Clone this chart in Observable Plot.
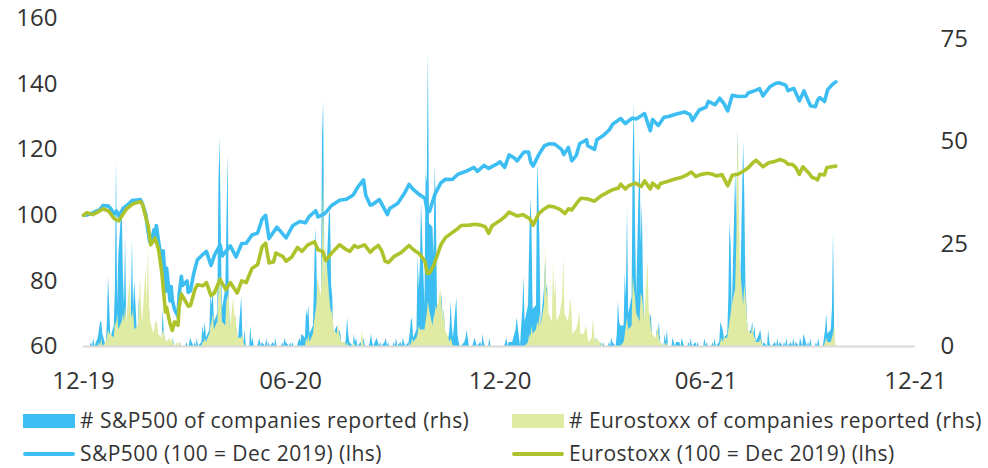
<!DOCTYPE html>
<html>
<head>
<meta charset="utf-8">
<script src="https://cdn.jsdelivr.net/npm/d3@7"></script>
<script src="https://cdn.jsdelivr.net/npm/@observablehq/plot@0.6"></script>
<style>
  html, body { margin: 0; padding: 0; background: #fff; }
  #wrap { position: relative; width: 988px; height: 468px; font-family: "Open Sans", Lato, sans-serif; color: #333; }
  .sw { position: absolute; }
  .lt { position: absolute; font-size: 21px; line-height: 20px; letter-spacing: 0.45px; white-space: nowrap; color: #333; }
</style>
</head>
<body>
<div id="wrap"></div>
<script>
// ---------- data ----------
const xDomain = ["2019-12-31", "2021-12-31"];
const xTicks = ["2019-12-31", "2020-06-30", "2020-12-31", "2021-06-30", "2021-12-31"];
const xTickLabels = ["12-19", "06-20", "12-20", "06-21", "12-21"];
const leftTicks = [60, 80, 100, 120, 140, 160];
const leftDomain = [60, 160];
const rightTicks = [0, 25, 50, 75];
const rightDomain = [0, 80];

const seriesNames = [
  "# S&P500 of companies reported (rhs)",
  "# Eurostoxx of companies reported (rhs)",
  "S&P500 (100 = Dec 2019) (lhs)",
  "Eurostoxx (100 = Dec 2019) (lhs)"
];
const colors = { spxArea: "#3dbef2", esxArea: "#dfeaa3", spxLine: "#3dbef2", esxLine: "#aec22c", base: "#d9d9d9" };

// S&P500 index (100 = Dec 2019)
const spxDates = ["2019-12-31","2020-01-03","2020-01-06","2020-01-08","2020-01-10","2020-01-14","2020-01-17","2020-01-22","2020-01-24","2020-01-27","2020-01-29","2020-01-31",
"2020-02-04","2020-02-07","2020-02-12","2020-02-14","2020-02-19","2020-02-21","2020-02-24","2020-02-25","2020-02-27","2020-02-28",
"2020-03-02","2020-03-03","2020-03-04","2020-03-06","2020-03-09","2020-03-10","2020-03-11","2020-03-12","2020-03-13","2020-03-16","2020-03-17","2020-03-18","2020-03-20","2020-03-23","2020-03-24","2020-03-26","2020-03-27","2020-03-31",
"2020-04-01","2020-04-03","2020-04-06","2020-04-09","2020-04-14","2020-04-17","2020-04-21","2020-04-24","2020-04-29","2020-05-01","2020-05-08","2020-05-13","2020-05-18","2020-05-22","2020-05-27",
"2020-06-01","2020-06-05","2020-06-08","2020-06-11","2020-06-15","2020-06-18","2020-06-26","2020-07-02","2020-07-08","2020-07-13","2020-07-16","2020-07-22","2020-07-24","2020-07-30",
"2020-08-05","2020-08-12","2020-08-18","2020-08-24","2020-08-28","2020-09-02","2020-09-04","2020-09-08","2020-09-10","2020-09-16","2020-09-23","2020-09-25",
"2020-10-02","2020-10-08","2020-10-12","2020-10-16","2020-10-21","2020-10-26","2020-10-28","2020-10-30","2020-11-04","2020-11-09","2020-11-13","2020-11-19","2020-11-24",
"2020-12-01","2020-12-08","2020-12-11","2020-12-17","2020-12-21","2020-12-28","2020-12-31",
"2021-01-04","2021-01-08","2021-01-12","2021-01-15","2021-01-21","2021-01-25","2021-01-27","2021-01-29","2021-02-03","2021-02-08","2021-02-12","2021-02-17","2021-02-23","2021-02-25",
"2021-03-01","2021-03-04","2021-03-08","2021-03-11","2021-03-17","2021-03-18","2021-03-24","2021-03-26","2021-04-01","2021-04-06","2021-04-09","2021-04-16","2021-04-20","2021-04-26","2021-04-30",
"2021-05-07","2021-05-12","2021-05-14","2021-05-19","2021-05-24","2021-05-28","2021-06-04","2021-06-11","2021-06-16","2021-06-18","2021-06-24","2021-06-30",
"2021-07-02","2021-07-08","2021-07-12","2021-07-16","2021-07-19","2021-07-23","2021-07-28","2021-08-04","2021-08-06","2021-08-12","2021-08-16","2021-08-19","2021-08-25","2021-08-30",
"2021-09-02","2021-09-08","2021-09-10","2021-09-15","2021-09-17","2021-09-20","2021-09-24","2021-09-28","2021-09-30","2021-10-04","2021-10-06","2021-10-08","2021-10-12","2021-10-15","2021-10-19","2021-10-22"];
const spxIndex = [100,100.1,100.5,100.7,101.1,101.6,103.0,102.8,102.0,100.4,101.3,99.8,
102.1,103.0,104.6,104.6,104.8,103.3,99.9,96.8,92.2,91.4,
95.6,93.0,96.9,92.0,85.0,89.2,84.1,76.8,83.9,73.9,78.3,74.2,71.3,69.2,75.7,81.4,78.6,80.0,
76.5,77.0,82.5,86.4,88.1,89.0,84.7,87.8,91.0,87.6,90.7,87.3,91.4,91.5,94.0,
94.6,98.9,100.0,92.9,94.9,96.4,93.1,96.9,98.1,97.7,99.5,101.4,99.5,100.5,
103.0,104.6,104.9,106.2,108.6,110.8,106.1,103.1,103.3,104.8,100.2,102.1,
103.6,106.7,109.4,107.8,106.3,105.2,101.2,101.2,106.6,109.9,111.0,110.9,112.5,
113.4,114.6,113.4,115.2,114.3,115.6,116.3,
114.6,118.4,117.6,116.6,119.3,119.3,116.1,115.0,118.5,121.2,121.8,121.7,120.1,118.5,
120.7,116.6,118.3,121.9,123.0,121.2,120.1,123.0,124.4,126.1,127.8,129.5,128.0,129.6,129.4,
131.0,125.8,129.2,127.4,129.9,130.1,130.9,131.5,130.7,128.9,132.1,133.0,
134.7,133.7,135.7,133.9,131.8,136.6,136.2,136.3,137.3,138.0,138.6,136.4,139.2,140.2,
140.4,139.7,138.0,138.7,137.2,134.9,137.9,134.7,133.3,133.1,135.1,135.9,134.7,138.4,139.9,140.7];

// Eurostoxx index (100 = Dec 2019)
const esxDates = ["2019-12-31","2020-01-03","2020-01-08","2020-01-14","2020-01-17","2020-01-22","2020-01-27","2020-01-31",
"2020-02-04","2020-02-07","2020-02-12","2020-02-19","2020-02-21","2020-02-24","2020-02-26","2020-02-28",
"2020-03-03","2020-03-06","2020-03-09","2020-03-12","2020-03-13","2020-03-16","2020-03-18","2020-03-20","2020-03-23","2020-03-24","2020-03-26","2020-03-30",
"2020-04-01","2020-04-03","2020-04-07","2020-04-09","2020-04-14","2020-04-17","2020-04-21","2020-04-24","2020-04-29","2020-05-04","2020-05-08","2020-05-14","2020-05-18","2020-05-22","2020-05-27",
"2020-06-01","2020-06-05","2020-06-08","2020-06-11","2020-06-15","2020-06-17","2020-06-23","2020-06-26","2020-07-01","2020-07-06","2020-07-10","2020-07-15","2020-07-21","2020-07-24","2020-07-28","2020-07-31",
"2020-08-05","2020-08-12","2020-08-18","2020-08-21","2020-08-25","2020-08-28","2020-09-03","2020-09-08","2020-09-11","2020-09-15","2020-09-18","2020-09-21","2020-09-24","2020-09-29",
"2020-10-05","2020-10-12","2020-10-16","2020-10-21","2020-10-26","2020-10-28","2020-10-30","2020-11-03","2020-11-09","2020-11-13","2020-11-18","2020-11-24","2020-11-27",
"2020-12-04","2020-12-09","2020-12-14","2020-12-18","2020-12-21","2020-12-24","2020-12-31",
"2021-01-04","2021-01-08","2021-01-12","2021-01-15","2021-01-20","2021-01-26","2021-01-29","2021-02-03","2021-02-08","2021-02-12","2021-02-17","2021-02-22","2021-02-26",
"2021-03-01","2021-03-04","2021-03-09","2021-03-12","2021-03-18","2021-03-24","2021-03-30","2021-04-06","2021-04-09","2021-04-14","2021-04-16","2021-04-20","2021-04-23","2021-04-29",
"2021-05-04","2021-05-07","2021-05-12","2021-05-14","2021-05-19","2021-05-21","2021-05-27","2021-06-02","2021-06-08","2021-06-14","2021-06-17","2021-06-21","2021-06-25",
"2021-07-01","2021-07-06","2021-07-09","2021-07-14","2021-07-19","2021-07-23","2021-07-28","2021-08-02","2021-08-06","2021-08-11","2021-08-13","2021-08-19","2021-08-24","2021-08-30",
"2021-09-03","2021-09-07","2021-09-10","2021-09-14","2021-09-17","2021-09-20","2021-09-23","2021-09-28","2021-10-01","2021-10-04","2021-10-06","2021-10-08","2021-10-12","2021-10-14","2021-10-18","2021-10-22"];
const esxIndex = [100,100.8,100.2,101.3,102.0,101.3,99.0,98.3,
100.5,102.0,103.4,104.2,103.2,99.0,96.5,91.0,
93.0,89.5,82.0,70.5,72.0,67.0,64.9,67.5,66.5,72.0,76.0,73.5,
72.3,72.5,77.5,78.8,78.5,79.5,75.5,76.3,80.5,77.3,79.5,76.3,80.0,79.5,83.8,
85.0,90.5,91.5,85.5,85.8,88.5,87.5,86.0,87.3,90.2,89.0,91.0,91.9,89.5,89.0,86.2,
88.5,91.0,89.5,89.0,90.8,90.2,91.0,88.7,89.8,90.8,89.2,86.0,85.6,87.5,
88.6,90.8,89.5,88.3,86.0,82.3,82.4,85.0,91.0,93.2,94.5,96.0,96.9,
97.0,97.3,97.0,96.5,94.5,96.8,98.4,
99.5,101.0,100.3,99.8,100.2,99.0,97.0,100.5,102.0,102.8,102.5,101.7,100.5,
102.0,101.6,104.0,105.2,105.0,104.3,106.0,107.3,107.8,108.3,109.5,108.0,109.0,109.8,
108.8,110.5,108.0,109.8,108.4,109.7,110.3,111.0,111.5,112.5,113.2,111.8,112.4,
112.8,112.5,112.0,112.4,109.0,112.2,112.5,113.5,114.5,116.3,116.8,114.8,116.0,116.5,
117.0,116.5,115.6,115.5,114.5,112.5,114.8,113.0,111.6,111.2,110.8,112.5,112.3,114.5,114.8,115.0];

// Companies reported per day (rhs): weekday runs, Monday-Friday, starting on the given Monday
const spxReportedRuns = [
  ["2020-01-06", [0,1,0,2,0, 2,4,6,6,3, 0,6,17,10,2, 5,14,46,10,22, 35,18,10,27,4, 5,8,26,9,16, 0,12,6,8,3, 4,3,6,9,3, 3,2,4,2,1, 1,9,3,2,0, 0,1,0,2,0, 0,0,1,0,0, 0,1,0,0,2]],
  ["2020-04-06", [0,1,0,2,0, 1,5,3,6,2, 4,13,10,14,6, 8,40,51,30,9, 14,30,47,13,4, 4,6,5,4,1, 12,3,1,4,0, 0,5,1,2,0, 0,1,2,0,1, 0,2,0,1,0, 1,0,2,0,0, 0,1,0,2,1, 0,1,0,1,0]],
  ["2020-07-06", [0,1,2,1,3, 2,9,7,10,3, 5,16,29,22,6, 8,51,60,18,12, 32,33,15,12,3, 5,3,4,3,1, 0,2,7,3,1, 0,3,1,2,0, 1,0,2,1,0, 0,1,3,1,0, 2,1,0,1,0, 1,2,0,1,0, 0,1,0,2,0]],
  ["2020-10-05", [1,0,2,1,0, 1,3,6,7,2, 4,22,14,20,35, 10,42,40,72,30, 29,22,44,35,10, 8,13,6,9,3, 2,4,11,5,2, 12,3,1,0,0, 1,2,4,2,0, 0,1,2,1,0, 1,0,3,1,0, 0,2,0,0,0, 0,0,0,0,0]],
  ["2021-01-04", [0,1,2,0,1, 1,2,3,4,7, 0,5,9,17,6, 10,25,36,30,9, 10,45,38,26,5, 14,21,15,13,3, 0,6,9,12,3, 6,9,10,8,2, 4,5,4,3,1, 0,2,1,3,0, 1,0,2,1,0, 0,1,0,2,0, 0,1,0,1,0]],
  ["2021-04-05", [0,1,0,2,1, 0,3,11,6,5, 5,18,12,34,8, 12,48,59,30,12, 48,25,35,15,6, 11,6,8,7,2, 1,4,3,6,1, 0,3,1,4,0, 0,2,1,0,1, 1,0,2,1,0, 0,1,0,2,0, 1,0,1,0,0, 0,2,0,1,0]],
  ["2021-07-05", [0,1,0,2,0, 1,6,5,4,2, 3,12,30,25,8, 43,30,53,28,8, 50,37,15,9,3, 4,6,3,5,1, 3,4,2,0,1, 0,4,1,0,0, 1,0,2,0,1, 0,1,0,2,0, 1,0,2,0,1, 0,2,1,0,3, 0,1,0,2,0]],
  ["2021-10-04", [0,1,0,2,0, 0,2,4,8,3, 4,9,28,3,0]]
];
const esxReportedRuns = [
  ["2020-01-06", [0,0,0,0,0, 0,1,0,2,0, 1,2,4,3,3, 2,6,5,8,4, 6,8,6,10,6, 17,8,7,9,4, 5,8,17,10,6, 19,10,25,10,6, 3,5,6,6,3, 2,4,3,2,1, 2,1,2,1,0, 1,0,1,0,0]],
  ["2020-04-13", [0,1,1,2,1, 3,5,6,8,4, 6,14,17,16,6, 5,11,12,13,4, 12,7,8,4,2, 2,3,1,0,0]],
  ["2020-07-13", [0,2,1,3,1, 3,6,8,10,17, 12,24,42,14,25, 13,10,8,9,4, 3,6,3,2,1, 1,0,1,0,0, 0,1,0,0,0, 0,4,1,0,0]],
  ["2020-10-12", [0,1,0,2,1, 2,3,5,4,4, 4,6,8,11,9, 5,7,8,10,9, 14,10,6,9,4, 2,1,2,1,0]],
  ["2021-01-25", [1,3,2,5,3, 4,6,5,8,5, 10,25,12,15,8, 6,21,12,16,6, 8,10,12,22,8, 6,8,12,9,3, 4,5,6,9,3, 3,4,5,3,1, 2,7,3,1,2, 1,0,1,0,0]],
  ["2021-04-19", [1,3,5,7,4, 5,17,14,12,8, 6,13,12,10,6, 21,9,7,4,3, 2,3,5,2,1, 0,1,0,1,0]],
  ["2021-07-12", [0,1,2,1,2, 2,4,6,8,10, 14,25,53,40,20, 10,15,12,8,4, 3,5,3,2,1, 1,2,1,0,0]],
  ["2021-10-11", [0,0,1,2,1, 1,2,3,5,0]]
];
const countFirstDay = "2019-12-31";
const countLastDay = "2021-10-22";

// ---------- build tables ----------
const parse = s => new Date(s + "T00:00:00Z");
const key = d => d.toISOString().slice(0, 10);

function expandRuns(runs) {
  const m = new Map();
  for (const [start, vals] of runs) {
    let d = parse(start), i = 0;
    while (i < vals.length) {
      const wd = d.getUTCDay();
      if (wd !== 0 && wd !== 6) { m.set(key(d), vals[i]); i++; }
      d = new Date(d.getTime() + 86400000);
    }
  }
  return m;
}
function weekdayTable(runs) {
  const m = expandRuns(runs);
  const out = [];
  for (let d = parse(countFirstDay); d <= parse(countLastDay); d = new Date(d.getTime() + 86400000)) {
    const wd = d.getUTCDay();
    if (wd === 0 || wd === 6) continue;
    out.push({ date: new Date(d), n: m.get(key(d)) ?? 0 });
  }
  return out;
}

const toLeft = d3.scaleLinear(rightDomain, leftDomain); // rhs count -> lhs units
const spxCount = weekdayTable(spxReportedRuns).map(d => ({ date: d.date, v: toLeft(d.n) }));
const esxCount = weekdayTable(esxReportedRuns).map(d => ({ date: d.date, v: toLeft(d.n) }));
const spxLine = spxDates.map((d, i) => ({ date: parse(d), v: spxIndex[i] }));
const esxLine = esxDates.map((d, i) => ({ date: parse(d), v: esxIndex[i] }));

// ---------- chart ----------
const chart = Plot.plot({
  width: 988,
  height: 400,
  marginLeft: 83,
  marginRight: 73,
  marginTop: 18,
  marginBottom: 54,
  style: { fontFamily: "'Open Sans', Lato, sans-serif", fontSize: "24px", color: "#333", background: "#fff" },
  x: { type: "utc", domain: xDomain.map(parse), axis: null },
  y: { domain: leftDomain, axis: null },
  marks: [
    Plot.areaY(spxCount, { x: "date", y1: leftDomain[0], y2: "v", fill: colors.spxArea, curve: "linear" }),
    Plot.areaY(esxCount, { x: "date", y1: leftDomain[0], y2: "v", fill: colors.esxArea, curve: "linear" }),
    Plot.ruleY([leftDomain[0]], { stroke: colors.base, strokeWidth: 2 }),
    Plot.line(spxLine, { x: "date", y: "v", stroke: colors.spxLine, strokeWidth: 3.6, strokeLinejoin: "round", strokeLinecap: "round" }),
    Plot.line(esxLine, { x: "date", y: "v", stroke: colors.esxLine, strokeWidth: 3.6, strokeLinejoin: "round", strokeLinecap: "round" }),
    Plot.axisY(leftTicks, { anchor: "left", label: null, tickSize: 0, tickPadding: 26, fill: "#333" }),
    Plot.axisY(rightTicks.map(toLeft), { anchor: "right", label: null, tickSize: 0, tickPadding: 25, fill: "#333", tickFormat: d => String(Math.round(toLeft.invert(d))) }),
    Plot.axisX(xTicks.map(parse), { anchor: "bottom", label: null, tickSize: 0, tickPadding: 25, fill: "#333", tickFormat: (d) => xTickLabels[xTicks.indexOf(key(d))] })
  ]
});

const wrap = document.getElementById("wrap");
chart.style.position = "absolute";
chart.style.left = "0px";
chart.style.top = "0px";
wrap.appendChild(chart);

// ---------- legend ----------
const legendItems = [
  { label: seriesNames[0], kind: "rect", color: colors.spxArea, left: 23, top: 421 },
  { label: seriesNames[1], kind: "rect", color: colors.esxArea, left: 512, top: 421 },
  { label: seriesNames[2], kind: "line", color: colors.spxLine, left: 23, top: 454 },
  { label: seriesNames[3], kind: "line", color: colors.esxLine, left: 512, top: 454 }
];
for (const it of legendItems) {
  const sw = document.createElement("div");
  sw.className = "sw";
  sw.style.left = it.left + "px";
  sw.style.width = "52px";
  sw.style.background = it.color;
  if (it.kind === "rect") { sw.style.top = (it.top - 7) + "px"; sw.style.height = "14px"; }
  else { sw.style.top = (it.top - 2) + "px"; sw.style.height = "4px"; sw.style.borderRadius = "2px"; }
  wrap.appendChild(sw);
  const t = document.createElement("div");
  t.className = "lt";
  t.textContent = it.label;
  t.style.left = (it.left + 57) + "px";
  t.style.top = (it.top - 11) + "px";
  wrap.appendChild(t);
}
</script>
</body>
</html>
